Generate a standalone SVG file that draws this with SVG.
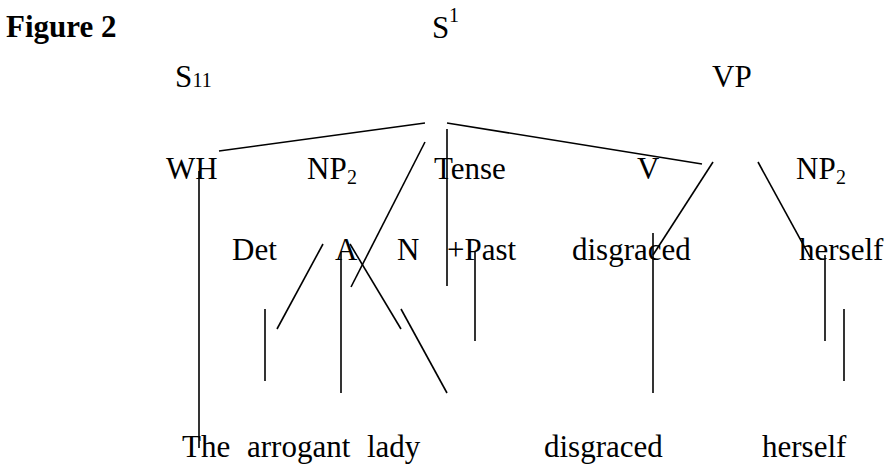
<svg xmlns="http://www.w3.org/2000/svg" width="889" height="466" viewBox="0 0 889 466">
  <style>
    text { font-family: "Liberation Serif", "Times New Roman", serif; font-size: 31px; fill: #000; }
    .title { font-weight: bold; }
    .small { font-size: 20px; }
    .edge { stroke: #000; stroke-width: 1.6; fill: none; stroke-linecap: butt; }
  </style>
  <rect width="889" height="466" fill="#fff"/>

  <!-- heading -->
  <g id="title"><text class="title" x="6" y="37">Figure 2</text></g>

  <!-- top levels -->
  <g id="node-S1"><text x="432" y="38">S</text><text class="small" x="449" y="22">1</text></g>
  <g id="node-S11"><text x="175" y="87">S</text><text class="small" x="192.5" y="87">11</text></g>
  <g id="node-VP"><text x="712" y="87">VP</text></g>

  <!-- third row -->
  <g id="node-WH"><text x="166" y="179">WH</text></g>
  <g id="node-NP2-a"><text x="307" y="179">NP</text><text class="small" x="347" y="184">2</text></g>
  <g id="node-Tense"><text x="434" y="179">Tense</text></g>
  <g id="node-V"><text x="637" y="179">V</text></g>
  <g id="node-NP2-b"><text x="796" y="179">NP</text><text class="small" x="836" y="184">2</text></g>

  <!-- fourth row -->
  <g id="node-Det"><text x="232" y="260">Det</text></g>
  <g id="node-A"><text x="335" y="260">A</text></g>
  <g id="node-N"><text x="397" y="260">N</text></g>
  <g id="node-Past"><text x="447" y="260">+Past</text></g>
  <g id="node-disgraced-a"><text x="572" y="260">disgraced</text></g>
  <g id="node-herself-a"><text x="799" y="260">herself</text></g>

  <!-- surface words -->
  <g id="word-The"><text x="182" y="457">The</text></g>
  <g id="word-arrogant"><text x="247" y="457">arrogant</text></g>
  <g id="word-lady"><text x="367" y="457">lady</text></g>
  <g id="word-disgraced"><text x="544" y="457">disgraced</text></g>
  <g id="word-herself"><text x="762" y="457">herself</text></g>

  <!-- branches -->
  <g id="connectors" class="edge">
    <line x1="219" y1="151" x2="425" y2="123"/>
    <line x1="447" y1="123" x2="702" y2="164"/>
    <line x1="447" y1="129" x2="447" y2="286"/>
    <line x1="425" y1="142" x2="351" y2="287"/>
    <line x1="199" y1="171" x2="199" y2="448"/>
    <line x1="713" y1="162" x2="653" y2="255"/>
    <line x1="758" y1="162" x2="810" y2="257"/>
    <line x1="323" y1="244" x2="277" y2="329"/>
    <line x1="265" y1="309" x2="265" y2="381"/>
    <line x1="341" y1="252" x2="341" y2="393"/>
    <line x1="350" y1="244" x2="401" y2="329"/>
    <line x1="401" y1="309" x2="447" y2="393"/>
    <line x1="475" y1="252" x2="475" y2="341"/>
    <line x1="653" y1="233" x2="653" y2="393"/>
    <line x1="825" y1="255" x2="825" y2="341"/>
    <line x1="844" y1="309" x2="844" y2="381"/>
  </g>
</svg>
